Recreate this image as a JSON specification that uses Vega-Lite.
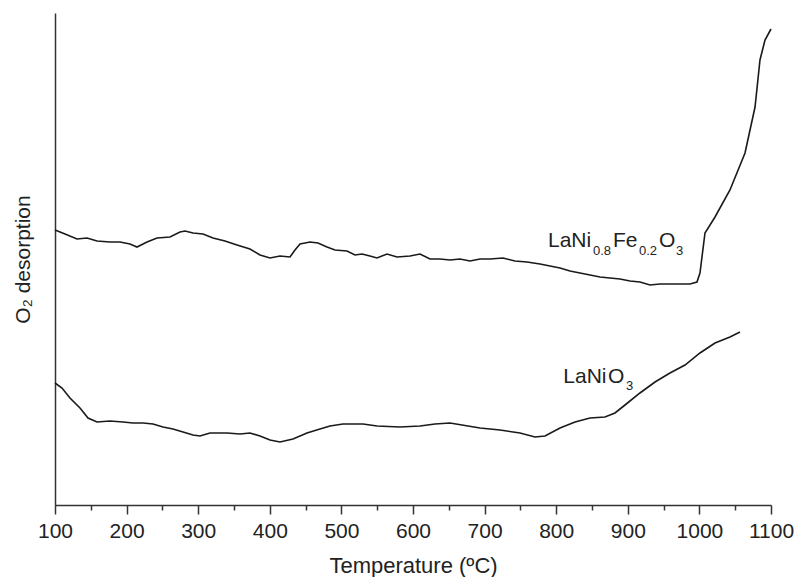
{
  "$schema": "https://vega.github.io/schema/vega-lite/v6.json",
  "width": 716,
  "height": 492,
  "autosize": {"type": "none"},
  "padding": {"left": 55, "top": 13, "right": 25, "bottom": 72},
  "background": "white",
  "config": {"view": {"stroke": null}, "font": "Liberation Sans"},
  "datasets": {
    "curves": [
      {"sample": "LaNi0.8Fe0.2O3", "T": 100, "S": 275},
      {"sample": "LaNi0.8Fe0.2O3", "T": 114, "S": 271},
      {"sample": "LaNi0.8Fe0.2O3", "T": 130.7, "S": 266},
      {"sample": "LaNi0.8Fe0.2O3", "T": 144.7, "S": 267},
      {"sample": "LaNi0.8Fe0.2O3", "T": 158.7, "S": 264},
      {"sample": "LaNi0.8Fe0.2O3", "T": 176.8, "S": 263},
      {"sample": "LaNi0.8Fe0.2O3", "T": 190.8, "S": 263},
      {"sample": "LaNi0.8Fe0.2O3", "T": 204.7, "S": 261},
      {"sample": "LaNi0.8Fe0.2O3", "T": 214.5, "S": 258},
      {"sample": "LaNi0.8Fe0.2O3", "T": 228.5, "S": 263},
      {"sample": "LaNi0.8Fe0.2O3", "T": 242.5, "S": 267},
      {"sample": "LaNi0.8Fe0.2O3", "T": 260.6, "S": 268},
      {"sample": "LaNi0.8Fe0.2O3", "T": 274.6, "S": 273},
      {"sample": "LaNi0.8Fe0.2O3", "T": 281.6, "S": 274},
      {"sample": "LaNi0.8Fe0.2O3", "T": 292.7, "S": 272},
      {"sample": "LaNi0.8Fe0.2O3", "T": 306.7, "S": 271},
      {"sample": "LaNi0.8Fe0.2O3", "T": 320.7, "S": 267},
      {"sample": "LaNi0.8Fe0.2O3", "T": 337.4, "S": 264},
      {"sample": "LaNi0.8Fe0.2O3", "T": 354.2, "S": 260},
      {"sample": "LaNi0.8Fe0.2O3", "T": 372.3, "S": 256},
      {"sample": "LaNi0.8Fe0.2O3", "T": 386.3, "S": 250},
      {"sample": "LaNi0.8Fe0.2O3", "T": 400.3, "S": 247},
      {"sample": "LaNi0.8Fe0.2O3", "T": 414.2, "S": 249},
      {"sample": "LaNi0.8Fe0.2O3", "T": 428.2, "S": 248},
      {"sample": "LaNi0.8Fe0.2O3", "T": 435.2, "S": 255},
      {"sample": "LaNi0.8Fe0.2O3", "T": 442.2, "S": 261},
      {"sample": "LaNi0.8Fe0.2O3", "T": 456.1, "S": 263},
      {"sample": "LaNi0.8Fe0.2O3", "T": 467.3, "S": 262},
      {"sample": "LaNi0.8Fe0.2O3", "T": 479.9, "S": 258},
      {"sample": "LaNi0.8Fe0.2O3", "T": 491, "S": 255},
      {"sample": "LaNi0.8Fe0.2O3", "T": 507.8, "S": 254},
      {"sample": "LaNi0.8Fe0.2O3", "T": 519, "S": 250},
      {"sample": "LaNi0.8Fe0.2O3", "T": 528.8, "S": 251},
      {"sample": "LaNi0.8Fe0.2O3", "T": 539.9, "S": 249},
      {"sample": "LaNi0.8Fe0.2O3", "T": 549.7, "S": 247},
      {"sample": "LaNi0.8Fe0.2O3", "T": 563.7, "S": 251},
      {"sample": "LaNi0.8Fe0.2O3", "T": 577.6, "S": 248},
      {"sample": "LaNi0.8Fe0.2O3", "T": 595.8, "S": 249},
      {"sample": "LaNi0.8Fe0.2O3", "T": 609.8, "S": 251},
      {"sample": "LaNi0.8Fe0.2O3", "T": 623.7, "S": 246},
      {"sample": "LaNi0.8Fe0.2O3", "T": 637.7, "S": 246},
      {"sample": "LaNi0.8Fe0.2O3", "T": 651.7, "S": 245},
      {"sample": "LaNi0.8Fe0.2O3", "T": 665.6, "S": 246},
      {"sample": "LaNi0.8Fe0.2O3", "T": 679.6, "S": 244},
      {"sample": "LaNi0.8Fe0.2O3", "T": 693.6, "S": 246},
      {"sample": "LaNi0.8Fe0.2O3", "T": 707.5, "S": 246},
      {"sample": "LaNi0.8Fe0.2O3", "T": 725.7, "S": 247},
      {"sample": "LaNi0.8Fe0.2O3", "T": 742.4, "S": 244},
      {"sample": "LaNi0.8Fe0.2O3", "T": 759.2, "S": 243},
      {"sample": "LaNi0.8Fe0.2O3", "T": 777.4, "S": 241},
      {"sample": "LaNi0.8Fe0.2O3", "T": 791.3, "S": 239},
      {"sample": "LaNi0.8Fe0.2O3", "T": 805.3, "S": 237},
      {"sample": "LaNi0.8Fe0.2O3", "T": 819.3, "S": 234},
      {"sample": "LaNi0.8Fe0.2O3", "T": 833.2, "S": 232},
      {"sample": "LaNi0.8Fe0.2O3", "T": 847.2, "S": 230},
      {"sample": "LaNi0.8Fe0.2O3", "T": 861.2, "S": 228},
      {"sample": "LaNi0.8Fe0.2O3", "T": 875.1, "S": 227},
      {"sample": "LaNi0.8Fe0.2O3", "T": 889.1, "S": 226},
      {"sample": "LaNi0.8Fe0.2O3", "T": 903.1, "S": 224},
      {"sample": "LaNi0.8Fe0.2O3", "T": 917, "S": 223},
      {"sample": "LaNi0.8Fe0.2O3", "T": 931, "S": 220},
      {"sample": "LaNi0.8Fe0.2O3", "T": 945, "S": 221},
      {"sample": "LaNi0.8Fe0.2O3", "T": 965.9, "S": 221},
      {"sample": "LaNi0.8Fe0.2O3", "T": 986.9, "S": 221},
      {"sample": "LaNi0.8Fe0.2O3", "T": 996.6, "S": 223},
      {"sample": "LaNi0.8Fe0.2O3", "T": 1000.8, "S": 232},
      {"sample": "LaNi0.8Fe0.2O3", "T": 1007.8, "S": 272},
      {"sample": "LaNi0.8Fe0.2O3", "T": 1021.8, "S": 288},
      {"sample": "LaNi0.8Fe0.2O3", "T": 1042.7, "S": 315},
      {"sample": "LaNi0.8Fe0.2O3", "T": 1063.7, "S": 352},
      {"sample": "LaNi0.8Fe0.2O3", "T": 1077.7, "S": 398},
      {"sample": "LaNi0.8Fe0.2O3", "T": 1084.6, "S": 445},
      {"sample": "LaNi0.8Fe0.2O3", "T": 1091.6, "S": 465},
      {"sample": "LaNi0.8Fe0.2O3", "T": 1100, "S": 476},
      {"sample": "LaNiO3", "T": 100, "S": 122},
      {"sample": "LaNiO3", "T": 109.8, "S": 117},
      {"sample": "LaNiO3", "T": 120.9, "S": 107},
      {"sample": "LaNiO3", "T": 134.9, "S": 97},
      {"sample": "LaNiO3", "T": 146.1, "S": 87},
      {"sample": "LaNiO3", "T": 158.7, "S": 83},
      {"sample": "LaNiO3", "T": 176.8, "S": 84},
      {"sample": "LaNiO3", "T": 195, "S": 83},
      {"sample": "LaNiO3", "T": 208.9, "S": 82},
      {"sample": "LaNiO3", "T": 222.9, "S": 82},
      {"sample": "LaNiO3", "T": 236.9, "S": 81},
      {"sample": "LaNiO3", "T": 250.8, "S": 78},
      {"sample": "LaNiO3", "T": 264.8, "S": 76},
      {"sample": "LaNiO3", "T": 278.8, "S": 73},
      {"sample": "LaNiO3", "T": 292.7, "S": 70},
      {"sample": "LaNiO3", "T": 302.5, "S": 69},
      {"sample": "LaNiO3", "T": 316.5, "S": 72},
      {"sample": "LaNiO3", "T": 340.2, "S": 72},
      {"sample": "LaNiO3", "T": 358.4, "S": 71},
      {"sample": "LaNiO3", "T": 372.3, "S": 72},
      {"sample": "LaNiO3", "T": 386.3, "S": 69},
      {"sample": "LaNiO3", "T": 400.3, "S": 65},
      {"sample": "LaNiO3", "T": 414.2, "S": 63},
      {"sample": "LaNiO3", "T": 432.4, "S": 66},
      {"sample": "LaNiO3", "T": 451.9, "S": 72},
      {"sample": "LaNiO3", "T": 470.1, "S": 76},
      {"sample": "LaNiO3", "T": 484.1, "S": 79},
      {"sample": "LaNiO3", "T": 502.2, "S": 81},
      {"sample": "LaNiO3", "T": 530.2, "S": 81},
      {"sample": "LaNiO3", "T": 549.7, "S": 79},
      {"sample": "LaNiO3", "T": 581.8, "S": 78},
      {"sample": "LaNiO3", "T": 609.8, "S": 79},
      {"sample": "LaNiO3", "T": 630.7, "S": 81},
      {"sample": "LaNiO3", "T": 651.7, "S": 82},
      {"sample": "LaNiO3", "T": 693.6, "S": 77},
      {"sample": "LaNiO3", "T": 721.5, "S": 75},
      {"sample": "LaNiO3", "T": 749.4, "S": 72},
      {"sample": "LaNiO3", "T": 770.4, "S": 68},
      {"sample": "LaNiO3", "T": 784.4, "S": 69},
      {"sample": "LaNiO3", "T": 805.3, "S": 77},
      {"sample": "LaNiO3", "T": 826.3, "S": 83},
      {"sample": "LaNiO3", "T": 847.2, "S": 87},
      {"sample": "LaNiO3", "T": 868.1, "S": 88},
      {"sample": "LaNiO3", "T": 882.1, "S": 92},
      {"sample": "LaNiO3", "T": 896.1, "S": 100},
      {"sample": "LaNiO3", "T": 917, "S": 112},
      {"sample": "LaNiO3", "T": 938, "S": 123},
      {"sample": "LaNiO3", "T": 958.9, "S": 132},
      {"sample": "LaNiO3", "T": 979.9, "S": 140},
      {"sample": "LaNiO3", "T": 1000.8, "S": 152},
      {"sample": "LaNiO3", "T": 1021.8, "S": 162},
      {"sample": "LaNiO3", "T": 1042.7, "S": 168},
      {"sample": "LaNiO3", "T": 1056.7, "S": 173}
    ],
    "labels": [
      {"text": "LaNi", "part": "main", "T": 788.5, "S": 258},
      {"text": "0.8", "part": "sub", "T": 851.4, "S": 250},
      {"text": "Fe", "part": "main", "T": 879.3, "S": 258},
      {"text": "0.2", "part": "sub", "T": 915.6, "S": 250},
      {"text": "O", "part": "main", "T": 943.6, "S": 258},
      {"text": "3", "part": "sub", "T": 967.3, "S": 250},
      {"text": "LaNi", "part": "main", "T": 809.9, "S": 122},
      {"text": "O", "part": "main", "T": 872.3, "S": 122},
      {"text": "3", "part": "sub", "T": 897.5, "S": 115}
    ]
  },
  "resolve": {"axis": {"x": "independent"}},
  "layer": [
    {
      "data": {"name": "curves"},
      "mark": {"type": "line", "stroke": "#1a1a1a", "strokeWidth": 1.6},
      "encoding": {
        "x": {
          "field": "T", "type": "quantitative",
          "scale": {"domain": [100, 1100], "nice": false, "zero": false},
          "axis": {
            "orient": "bottom",
            "values": [100,200,300,400,500,600,700,800,900,1000,1100],
            "format": "d",
            "grid": false,
            "tickSize": 9, "tickColor": "#333", "tickWidth": 1.5,
            "domainColor": "#333", "domainWidth": 1.5,
            "labelFontSize": 21, "labelColor": "#222", "labelPadding": 6,
            "labelFlush": false, "labelOverlap": false,
            "title": "Temperature (ºC)", "titleFontSize": 22, "titleFontWeight": "normal",
            "titleColor": "#222", "titlePadding": 14
          }
        },
        "y": {
          "field": "S", "type": "quantitative",
          "scale": {"domain": [0, 492], "nice": false},
          "axis": {
            "labels": false, "ticks": false, "grid": false,
            "domainColor": "#333", "domainWidth": 1.5,
            "title": "O₂ desorption", "titleFontSize": 21, "titleFontWeight": "normal",
            "titleColor": "#222", "titlePadding": 22
          }
        },
        "detail": {"field": "sample"}
      }
    },
    {
      "data": {"name": "labels"},
      "transform": [{"filter": "datum.part === 'main'"}],
      "mark": {"type": "text", "align": "left", "baseline": "alphabetic", "fontSize": 21, "color": "#222"},
      "encoding": {
        "x": {
          "field": "T", "type": "quantitative",
          "axis": {
            "orient": "bottom",
            "values": [150,250,350,450,550,650,750,850,950,1050],
            "labels": false, "domain": false, "grid": false, "title": null,
            "tickSize": 5, "tickColor": "#333", "tickWidth": 1.5
          }
        },
        "y": {"field": "S", "type": "quantitative"},
        "text": {"field": "text"}
      }
    },
    {
      "data": {"name": "labels"},
      "transform": [{"filter": "datum.part === 'sub'"}],
      "mark": {"type": "text", "align": "left", "baseline": "alphabetic", "fontSize": 13, "color": "#222"},
      "encoding": {
        "x": {"field": "T", "type": "quantitative", "axis": null},
        "y": {"field": "S", "type": "quantitative"},
        "text": {"field": "text"}
      }
    }
  ]
}
